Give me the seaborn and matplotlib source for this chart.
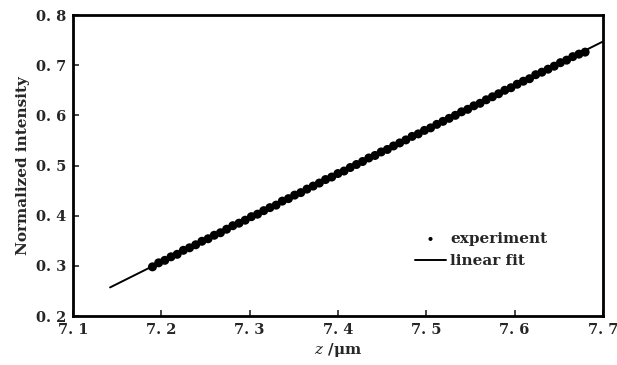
import matplotlib
matplotlib.use('Agg')
import matplotlib.pyplot as plt
import seaborn as sns

z_exp = [7.190, 7.197, 7.204, 7.211, 7.218, 7.225, 7.232, 7.239, 7.246, 7.253,
         7.260, 7.267, 7.274, 7.281, 7.288, 7.295, 7.302, 7.309, 7.316, 7.323,
         7.330, 7.337, 7.344, 7.351, 7.358, 7.365, 7.372, 7.379, 7.386, 7.393,
         7.400, 7.407, 7.414, 7.421, 7.428, 7.435, 7.442, 7.449, 7.456, 7.463,
         7.470, 7.477, 7.484, 7.491, 7.498, 7.505, 7.512, 7.519, 7.526, 7.533,
         7.540, 7.547, 7.554, 7.561, 7.568, 7.575, 7.582, 7.589, 7.596, 7.603,
         7.610, 7.617, 7.624, 7.631, 7.638, 7.645, 7.652, 7.659, 7.666, 7.673,
         7.680]
i_exp = [0.298, 0.306, 0.311, 0.318, 0.323, 0.331, 0.336, 0.342, 0.349, 0.354,
         0.361, 0.366, 0.373, 0.380, 0.385, 0.391, 0.398, 0.403, 0.410, 0.416,
         0.421, 0.429, 0.434, 0.441, 0.446, 0.453, 0.459, 0.465, 0.472, 0.477,
         0.484, 0.489, 0.496, 0.502, 0.508, 0.515, 0.520, 0.527, 0.532, 0.539,
         0.545, 0.551, 0.558, 0.563, 0.570, 0.575, 0.582, 0.588, 0.594, 0.600,
         0.607, 0.612, 0.619, 0.624, 0.631, 0.637, 0.643, 0.650, 0.655, 0.662,
         0.668, 0.673, 0.681, 0.686, 0.692, 0.698, 0.705, 0.710, 0.717, 0.722,
         0.726]

# linear fit end points
z_fit = [7.142, 7.700]
i_fit = [0.257, 0.747]

x_ticks = [7.1, 7.2, 7.3, 7.4, 7.5, 7.6, 7.7]
y_ticks = [0.2, 0.3, 0.4, 0.5, 0.6, 0.7, 0.8]

sns.set_style("white")
plt.rcParams.update({'font.family': 'DejaVu Serif', 'mathtext.fontset': 'dejavuserif'})

fig = plt.figure(figsize=(6.17, 3.65), dpi=100)
ax = fig.add_axes([0.1183, 0.1342, 0.8587, 0.8247])

sns.lineplot(x=z_fit, y=i_fit, color='black', linewidth=1.4, label='linear fit', ax=ax)
sns.scatterplot(x=z_exp, y=i_exp, color='black', s=42, edgecolor='none',
                label='experiment', ax=ax, zorder=3)

ax.set_xlim(7.1, 7.7)
ax.set_ylim(0.2, 0.8)
ax.set_xticks(x_ticks)
ax.set_yticks(y_ticks)
ax.set_xticklabels([f'{t:.1f}'.replace('.', '. ') for t in x_ticks])
ax.set_yticklabels([f'{t:.1f}'.replace('.', '. ') for t in y_ticks])
ax.tick_params(direction='in', length=4, width=1.2, labelsize=10.5,
               bottom=True, left=True, top=False, right=False, pad=5)
for lab in ax.get_xticklabels() + ax.get_yticklabels():
    lab.set_fontweight('bold')
for sp in ax.spines.values():
    sp.set_linewidth(2)
    sp.set_color('black')

ax.set_xlabel('$z$ /μm', fontsize=11, fontweight='bold', labelpad=3)
ax.set_ylabel('Normalized intensity', fontsize=11, fontweight='bold', labelpad=4)

handles, labels = ax.get_legend_handles_labels()
order = [labels.index('experiment'), labels.index('linear fit')]
ax.legend([handles[k] for k in order], [labels[k] for k in order],
          loc='upper left', bbox_to_anchor=(0.62, 0.325), frameon=False,
          prop={'family': 'DejaVu Serif', 'weight': 'bold', 'size': 11},
          handlelength=2.0, handletextpad=0.3, labelspacing=0.55, markerscale=0.45)

plt.savefig('out.png', dpi=100)
plt.close()
